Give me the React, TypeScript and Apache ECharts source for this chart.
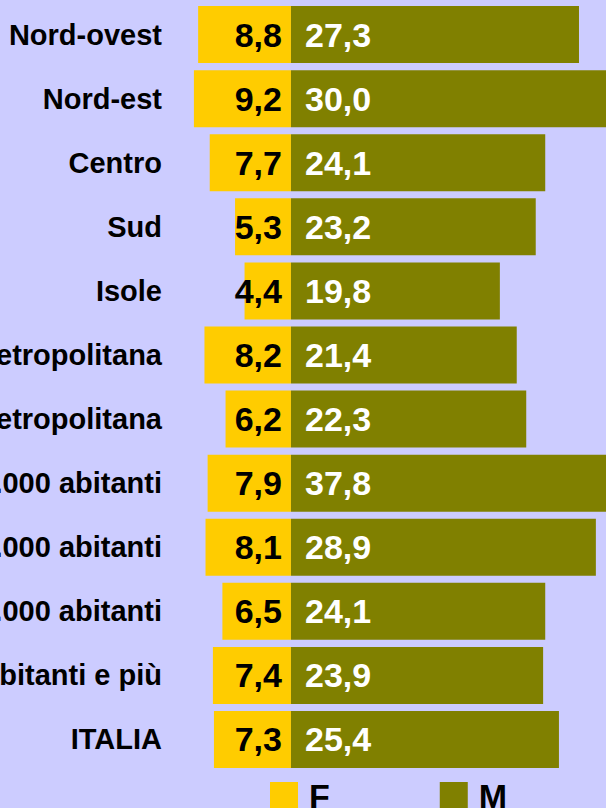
import React, { useEffect, useRef } from "react";
import * as echarts from "echarts";

const categories = [
  "Nord-ovest",
  "Nord-est",
  "Centro",
  "Sud",
  "Isole",
  "Comune centro area metropolitana",
  "Periferia area metropolitana",
  "Fino a 2.000 abitanti",
  "Da 2.001 a 10.000 abitanti",
  "Da 10.001 a 50.000 abitanti",
  "50.001 abitanti e più",
  "ITALIA",
];
const femmine = [8.8, 9.2, 7.7, 5.3, 4.4, 8.2, 6.2, 7.9, 8.1, 6.5, 7.4, 7.3];
const maschi = [27.3, 30.0, 24.1, 23.2, 19.8, 21.4, 22.3, 37.8, 28.9, 24.1, 23.9, 25.4];
const seriesNames = ["F", "M"];

const FONT = '"Liberation Sans", Arial, sans-serif';
const fmt = (v: number) => Math.abs(v).toFixed(1).replace(".", ",");

export default function App() {
  const ref = useRef<HTMLDivElement>(null);
  useEffect(() => {
    if (!ref.current) return;
    const chart = echarts.init(ref.current, undefined, { renderer: "svg" });
    chart.setOption({
      animation: false,
      backgroundColor: "#CCCCFF",
      textStyle: { fontFamily: FONT },
      grid: {
        left: 0,
        right: 0,
        top: 2.5,
        bottom: 36.5,
        containLabel: false,
        outerBoundsMode: "none",
      },
      legend: {
        data: seriesNames,
        left: 270,
        top: 778,
        padding: 0,
        icon: "rect",
        itemWidth: 28,
        itemHeight: 28,
        itemGap: 110,
        textStyle: {
          fontFamily: FONT,
          fontWeight: "bold",
          fontSize: 34,
          lineHeight: 28,
          color: "#000",
          padding: [0, 0, 8, 6],
        },
      },
      xAxis: {
        type: "value",
        min: -27.58,
        max: 29.86,
        axisLabel: { show: false },
        axisLine: { show: false },
        axisTick: { show: false },
        splitLine: { show: false },
      },
      yAxis: {
        type: "category",
        data: categories,
        inverse: true,
        axisLine: { show: false },
        axisTick: { show: false },
        axisLabel: {
          margin: -162,
          fontFamily: FONT,
          fontWeight: "bold",
          fontSize: 29,
          color: "#000",
        },
      },
      series: [
        {
          name: "F",
          type: "bar",
          stack: "tot",
          barWidth: 57,
          data: femmine.map((v) => -v),
          itemStyle: { color: "#FFCC00" },
          label: {
            show: true,
            position: "insideRight",
            distance: 9,
            formatter: (p: any) => fmt(p.value),
            fontFamily: FONT,
            fontWeight: "bold",
            fontSize: 34,
            color: "#000",
          },
        },
        {
          name: "M",
          type: "bar",
          stack: "tot",
          barWidth: 57,
          data: maschi,
          itemStyle: { color: "#808000" },
          label: {
            show: true,
            position: "insideLeft",
            distance: 14,
            formatter: (p: any) => fmt(p.value),
            fontFamily: FONT,
            fontWeight: "bold",
            fontSize: 34,
            color: "#fff",
          },
        },
      ],
    });
    return () => chart.dispose();
  }, []);
  return (
    <div
      ref={ref}
      style={{ position: "fixed", left: 0, top: 0, width: 606, height: 808 }}
    />
  );
}
